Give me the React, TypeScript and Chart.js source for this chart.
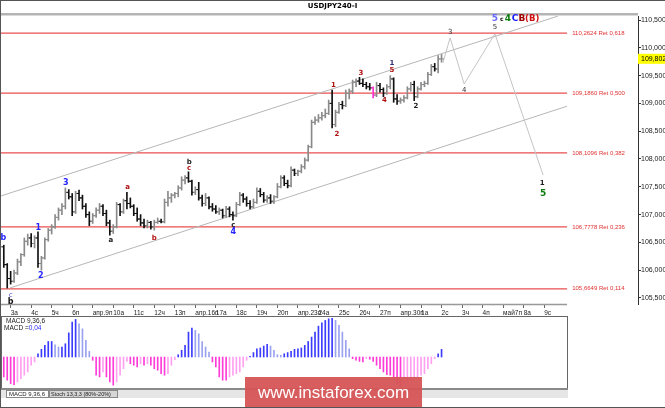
import React, { useRef, useEffect } from 'react';
import { Chart, registerables } from 'chart.js';

Chart.register(...registerables);

// USDJPY H4 bars, index 0 = first bar on screen (Apr 2), last = May 1 close
const opens = [
  106.42, 106.10, 105.85, 105.80, 105.95, 106.15, 106.28, 106.52, 106.58, 106.48,
  106.58, 106.12, 106.22, 106.55, 106.72, 106.78, 106.95, 107.08, 107.15, 107.40,
  107.32, 107.05, 107.38, 107.30, 107.15, 107.00, 106.88, 106.98, 107.08, 107.15,
  107.02, 106.85, 106.70, 106.78, 107.18, 107.05, 107.25, 107.20, 107.15, 107.02,
  106.92, 106.85, 106.80, 106.86, 106.78, 106.86, 106.88, 106.87, 107.22, 107.30,
  107.35, 107.38, 107.48, 107.62, 107.66, 107.60, 107.40, 107.45, 107.30, 107.20,
  107.30, 107.14, 107.10, 107.05, 107.08, 106.98, 107.10, 107.00, 106.98, 107.18,
  107.35, 107.28, 107.20, 107.14, 107.22, 107.42, 107.36, 107.26, 107.30, 107.24,
  107.32, 107.50, 107.66, 107.56, 107.52, 107.80, 107.74, 107.78, 107.86, 107.98,
  108.22, 108.66, 108.70, 108.74, 108.78, 108.82, 109.00, 108.62, 108.84, 108.98,
  108.96, 109.18, 109.22, 109.38, 109.40, 109.36, 109.34, 109.30, 109.28, 109.15,
  109.32, 109.25, 109.18, 109.30, 109.44, 109.08, 109.04, 109.06, 109.10, 109.26,
  109.34, 109.12, 109.26, 109.34, 109.36, 109.52, 109.66, 109.62, 109.80,
];
const highs = [
  106.45, 106.12, 105.98, 106.00, 106.20, 106.30, 106.58, 106.65, 106.66, 106.62,
  106.69, 106.25, 106.58, 106.75, 106.82, 107.00, 107.12, 107.20, 107.48, 107.45,
  107.38, 107.42, 107.44, 107.35, 107.20, 107.05, 107.02, 107.12, 107.20, 107.18,
  107.08, 106.90, 106.82, 107.22, 107.20, 107.28, 107.40, 107.30, 107.18, 107.12,
  107.00, 106.92, 106.90, 106.88, 106.90, 106.94, 106.92, 107.28, 107.42, 107.38,
  107.40, 107.52, 107.68, 107.70, 107.77, 107.62, 107.50, 107.58, 107.35, 107.38,
  107.32, 107.20, 107.16, 107.12, 107.10, 107.15, 107.14, 107.05, 107.22, 107.40,
  107.38, 107.32, 107.25, 107.28, 107.48, 107.47, 107.40, 107.34, 107.36, 107.34,
  107.56, 107.70, 107.70, 107.62, 107.86, 107.82, 107.80, 107.90, 108.02, 108.25,
  108.70, 108.76, 108.80, 108.84, 108.90, 109.06, 109.24, 108.88, 109.02, 109.04,
  109.24, 109.26, 109.42, 109.44, 109.47, 109.44, 109.38, 109.36, 109.30, 109.38,
  109.36, 109.28, 109.34, 109.50, 109.46, 109.16, 109.10, 109.14, 109.30, 109.38,
  109.40, 109.30, 109.38, 109.40, 109.56, 109.70, 109.72, 109.86, 109.88,
];
const lows = [
  106.05, 105.68, 105.75, 105.78, 105.92, 106.08, 106.25, 106.45, 106.42, 106.40,
  106.05, 106.00, 106.20, 106.52, 106.65, 106.75, 106.90, 107.00, 107.10, 107.28,
  106.98, 107.02, 107.25, 107.10, 106.95, 106.80, 106.84, 106.95, 107.02, 106.98,
  106.80, 106.63, 106.66, 106.76, 106.98, 107.02, 107.10, 107.12, 106.98, 106.88,
  106.80, 106.76, 106.76, 106.74, 106.72, 106.84, 106.85, 106.85, 107.15, 107.22,
  107.30, 107.32, 107.44, 107.55, 107.58, 107.35, 107.36, 107.26, 107.15, 107.16,
  107.10, 107.06, 107.02, 107.00, 106.94, 106.95, 106.96, 106.90, 106.96, 107.16,
  107.22, 107.15, 107.10, 107.12, 107.20, 107.32, 107.22, 107.22, 107.20, 107.20,
  107.30, 107.48, 107.52, 107.48, 107.50, 107.70, 107.70, 107.75, 107.82, 107.96,
  108.20, 108.62, 108.66, 108.70, 108.74, 108.80, 108.56, 108.58, 108.82, 108.90,
  108.94, 109.08, 109.18, 109.30, 109.34, 109.30, 109.26, 109.24, 109.10, 109.12,
  109.20, 109.12, 109.16, 109.26, 109.02, 108.98, 109.00, 109.02, 109.08, 109.22,
  109.05, 109.10, 109.24, 109.30, 109.34, 109.50, 109.58, 109.55, 109.74,
];
const closes = [
  106.10, 105.85, 105.80, 105.95, 106.15, 106.28, 106.52, 106.58, 106.48, 106.58,
  106.12, 106.22, 106.55, 106.72, 106.78, 106.95, 107.08, 107.15, 107.40, 107.32,
  107.05, 107.38, 107.30, 107.15, 107.00, 106.88, 106.98, 107.08, 107.15, 107.02,
  106.85, 106.70, 106.78, 107.18, 107.05, 107.25, 107.20, 107.15, 107.02, 106.92,
  106.85, 106.80, 106.86, 106.78, 106.86, 106.88, 106.87, 107.22, 107.30, 107.35,
  107.38, 107.48, 107.62, 107.66, 107.60, 107.40, 107.45, 107.30, 107.20, 107.30,
  107.14, 107.10, 107.05, 107.08, 106.98, 107.10, 107.00, 106.98, 107.18, 107.35,
  107.28, 107.20, 107.14, 107.22, 107.42, 107.36, 107.26, 107.30, 107.24, 107.32,
  107.50, 107.66, 107.56, 107.52, 107.80, 107.74, 107.78, 107.86, 107.98, 108.22,
  108.66, 108.70, 108.74, 108.78, 108.82, 109.00, 108.62, 108.84, 108.98, 108.96,
  109.18, 109.22, 109.38, 109.40, 109.36, 109.34, 109.30, 109.28, 109.15, 109.32,
  109.25, 109.18, 109.30, 109.44, 109.08, 109.04, 109.06, 109.10, 109.26, 109.34,
  109.12, 109.26, 109.34, 109.36, 109.52, 109.66, 109.62, 109.80, 109.80,
];
// bar shown in magenta on the terminal
const markedBar = 108;

// MACD 9,36,6 histogram, one value per bar
const macd = [
  -0.104, -0.121, -0.139, -0.144, -0.130, -0.113, -0.095, -0.078, -0.043, -0.026,
  0.017, 0.040, 0.061, 0.081, 0.081, 0.064, 0.052, 0.052, 0.069, 0.126,
  0.182, 0.196, 0.173, 0.147, 0.087, 0.029,
  -0.017, -0.095, -0.104, -0.078, -0.104, -0.130, -0.147, -0.130, -0.095, -0.061,
  -0.023, -0.035, -0.043, -0.052, -0.035, -0.043, -0.035, -0.043, -0.061, -0.069,
  -0.087, -0.095, -0.087, -0.043, -0.014,
  0.012, 0.035, 0.061, 0.130, 0.151, 0.139, 0.121, 0.081, 0.052, 0.026,
  -0.026, -0.052, -0.104, -0.121, -0.121, -0.104, -0.095, -0.087, -0.078, -0.052,
  -0.017, 0.004,
  0.023, 0.043, 0.047, 0.057, 0.066, 0.057, 0.035, 0.012, 0.009, 0.017,
  0.023, 0.029, 0.040, 0.043, 0.047, 0.061, 0.081, 0.104, 0.130, 0.161,
  0.178, 0.191, 0.199, 0.203, 0.191, 0.165, 0.130, 0.087, 0.043,
  -0.009, -0.017, -0.023, -0.026, -0.009, -0.012, -0.023, -0.043, -0.061, -0.078,
  -0.092, -0.095, -0.113, -0.139, -0.151, -0.139, -0.130, -0.121, -0.113, -0.104,
  -0.095, -0.087, -0.061, -0.035, -0.009,
  0.017, 0.040,
];

// one label per trading day, first one sits on bar 2, then every 6 bars
const dayLabels = [
  '3а', '4с', '5ч', '6п', 'апр.9п', '10а', '11с', '12ч', '13п', 'апр.16п',
  '17а', '18с', '19ч', '20п', 'апр.23п', '24а', '25с', '26ч', '27п', 'апр.30п',
  '1а', '2с', '3ч', '4п', 'май7п', '8а', '9с',
];
const priceTicks = [105.5, 106, 106.5, 107, 107.5, 108, 108.5, 109, 109.5, 110, 110.5];
const fibLevels = [110.2624, 109.186, 108.1096, 106.7778, 105.6649];
const fibRatios = ['0,618', '0,500', '0,382', '0,236', '0,114'];
const lastPrice = 109.802;

// channel and forecast path, in (bar index, price)
const upperChannel = [{ x: -1.11, y: 107.33 }, { x: 162, y: 110.57 }];
const lowerChannel = [{ x: 1.8, y: 105.68 }, { x: 164.7, y: 108.95 }];
const forecast = [
  { x: 128.4, y: 109.73 }, { x: 130.5, y: 110.18 }, { x: 134.6, y: 109.35 },
  { x: 143.6, y: 110.25 }, { x: 157.7, y: 107.71 },
];

// wave marks: text, bar index, price, style
const waveLabels = [
  ['b', -0.1, 106.58, 'blue'], ['c', 2.0, 105.55, 'blueC'], ['b', 2.0, 105.43, 'blackBig'],
  ['1', 10.1, 106.76, 'blue'], ['2', 10.8, 105.9, 'blue'], ['3', 18.1, 107.57, 'blue'],
  ['a', 31.3, 106.54, 'black'], ['a', 36.2, 107.5, 'red'], ['b', 44.0, 106.58, 'red'],
  ['b', 54.2, 107.95, 'black'], ['c', 54.2, 107.84, 'red'],
  ['c', 67.1, 106.81, 'black'], ['4', 67.1, 106.69, 'blue'],
  ['1', 96.4, 109.33, 'red'], ['2', 97.4, 108.45, 'red'], ['3', 104.4, 109.55, 'red'],
  ['4', 111.3, 109.06, 'red'], ['1', 113.5, 109.73, 'navy'], ['5', 113.5, 109.59, 'red'],
  ['2', 120.5, 108.95, 'black'],
  ['3', 130.5, 110.28, 'gray'], ['4', 134.6, 109.24, 'gray'], ['5', 143.6, 110.37, 'gray'],
  ['5', 143.6, 110.518, 'violet'], ['c', 145.6, 110.518, 'tiny'], ['4', 147.4, 110.518, 'green'],
  ['C', 149.5, 110.518, 'blueBig'], ['B', 151.5, 110.518, 'maroon'], ['(B)', 154.5, 110.518, 'redBig'],
  ['1', 157.4, 107.57, 'black'], ['5', 157.7, 107.37, 'greenMid'],
];

const labelStyles = {
  blue: ['#2424ff', 'bold 8px "DejaVu Sans"'],
  blueC: ['#4848d0', '7px "DejaVu Sans"'],
  black: ['#202020', 'bold 7px "DejaVu Sans"'],
  blackBig: ['#111111', 'bold 8px "DejaVu Sans"'],
  red: ['#b01010', 'bold 7px "DejaVu Sans"'],
  navy: ['#303078', 'bold 7px "DejaVu Sans"'],
  gray: ['#333333', '7px "DejaVu Sans"'],
  violet: ['#6a6aff', 'bold 9px "DejaVu Sans"'],
  tiny: ['#111111', 'bold 6px "DejaVu Sans"'],
  green: ['#0a7a0a', 'bold 9px "DejaVu Sans"'],
  greenMid: ['#0a7a0a', 'bold 9px "DejaVu Sans"'],
  blueBig: ['#1a1aff', 'bold 9px "DejaVu Sans"'],
  maroon: ['#a00000', 'bold 9px "DejaVu Sans"'],
  redBig: ['#d01010', 'bold 8.5px "DejaVu Sans"'],
};

const X_MIN = -1.11;
const X_MAX = 185.44;
const AXIS_W = 27;

const barColor = (i) => {
  if (i === markedBar) return '#ff30d0';
  return closes[i] >= opens[i] ? '#8a8a8a' : '#111111';
};

const macdColor = (i) => {
  const v = macd[i];
  const prev = i > 0 ? macd[i - 1] : 0;
  if (v >= 0) return v >= prev ? '#3c3cff' : '#9aa2f0';
  return v <= prev ? '#ff3cd8' : '#ffa0f0';
};

const fmt = (v, d) => v.toFixed(d).replace('.', ',');

const mainDecor = {
  id: 'mainDecor',
  afterDraw(chart) {
    const { ctx, chartArea, scales } = chart;
    const xs = scales.x;
    const ys = scales.y;
    ctx.save();
    // title band
    ctx.fillStyle = '#b4b4b4';
    ctx.fillRect(0, 13, chartArea.right, 2.5);
    ctx.fillStyle = '#000';
    ctx.font = 'bold 7px "DejaVu Sans"';
    ctx.textAlign = 'center';
    ctx.textBaseline = 'middle';
    ctx.fillText('USDJPY240-I', 332.5, 6.5);
    // time axis baseline
    ctx.strokeStyle = '#999';
    ctx.lineWidth = 1.5;
    ctx.beginPath();
    ctx.moveTo(0, chartArea.bottom + 0.5);
    ctx.lineTo(xs.getPixelForValue(164.7), chartArea.bottom + 0.5);
    ctx.stroke();
    // fibo captions
    ctx.font = '6px "Liberation Sans"';
    ctx.textAlign = 'left';
    ctx.fillStyle = '#e03030';
    fibLevels.forEach((lv, k) => {
      ctx.fillText(`${fmt(lv, 4)} Ret ${fibRatios[k]}`, xs.getPixelForValue(166.2), ys.getPixelForValue(lv));
    });
    // wave marks
    ctx.textAlign = 'center';
    waveLabels.forEach(([t, i, p, k]) => {
      const [c, f] = labelStyles[k];
      ctx.fillStyle = c;
      ctx.font = f;
      ctx.fillText(t, xs.getPixelForValue(i), ys.getPixelForValue(p));
    });
    // last price box
    const py = ys.getPixelForValue(lastPrice);
    ctx.fillStyle = '#ffff00';
    ctx.fillRect(chartArea.right, py - 5, AXIS_W, 10);
    ctx.fillStyle = '#000';
    ctx.textAlign = 'left';
    ctx.font = '7px "Liberation Sans"';
    ctx.fillText(fmt(lastPrice, 3), chartArea.right + 3, py + 0.5);
    ctx.restore();
  },
};

const macdDecor = {
  id: 'macdDecor',
  afterDraw(chart) {
    const { ctx } = chart;
    ctx.save();
    ctx.strokeStyle = '#666';
    ctx.lineWidth = 1;
    ctx.strokeRect(1.5, 0.5, 566, 72);
    ctx.fillStyle = '#8a8a8a';
    ctx.fillRect(1, 72, 567, 2);
    ctx.fillStyle = '#e6e6e6';
    ctx.fillRect(1, 74, 567, 8);
    ctx.fillStyle = '#fff';
    ctx.fillRect(6, 74, 42, 8);
    ctx.strokeStyle = '#888';
    ctx.strokeRect(6.5, 74.5, 42, 7);
    ctx.fillStyle = '#d6d6d6';
    ctx.fillRect(49, 75, 68, 7);
    ctx.strokeRect(49.5, 74.5, 68, 7);
    ctx.textBaseline = 'middle';
    ctx.textAlign = 'left';
    ctx.fillStyle = '#222';
    ctx.font = '6px "Liberation Sans"';
    ctx.fillText('MACD 9,36,6', 9, 78.5);
    ctx.font = '5.5px "Liberation Sans"';
    ctx.fillText('Stoch 13,3,3 (80%-20%)', 51, 78.5);
    ctx.font = '6.5px "Liberation Sans"';
    ctx.fillText('MACD 9,36,6', 6, 5.5);
    ctx.fillText('MACD =', 4, 12.5);
    const w = ctx.measureText('MACD =').width;
    ctx.fillStyle = '#2a2aff';
    ctx.fillText(fmt(macd[macd.length - 1], 2), 4 + w, 12.5);
    ctx.restore();
  },
};

const PriceChart = () => {
  const ref = useRef(null);
  useEffect(() => {
    const chart = new Chart(ref.current, {
      type: 'bar',
      data: {
        datasets: [
          {
            type: 'bar',
            data: highs.map((h, i) => ({ x: i, y: [lows[i], h] })),
            backgroundColor: (c) => barColor(c.dataIndex),
            barThickness: 1,
            borderWidth: 0,
          },
          {
            type: 'scatter',
            data: opens.map((o, i) => ({ x: i - 0.36, y: o })),
            pointStyle: 'line',
            pointRadius: 1.25,
            pointHoverRadius: 1.25,
            pointBorderWidth: 1,
            pointBorderColor: (c) => barColor(c.dataIndex),
          },
          {
            type: 'scatter',
            data: closes.map((v, i) => ({ x: i + 0.36, y: v })),
            pointStyle: 'line',
            pointRadius: 1.25,
            pointHoverRadius: 1.25,
            pointBorderWidth: 1,
            pointBorderColor: (c) => barColor(c.dataIndex),
          },
          {
            type: 'line',
            data: forecast,
            borderColor: '#c4c4c4',
            borderWidth: 1,
            pointRadius: 0,
            tension: 0,
          },
          {
            type: 'line',
            data: upperChannel,
            borderColor: '#b6b6b6',
            borderWidth: 1,
            pointRadius: 0,
          },
          {
            type: 'line',
            data: lowerChannel,
            borderColor: '#b6b6b6',
            borderWidth: 1,
            pointRadius: 0,
          },
          ...fibLevels.map((lv) => ({
            type: 'line',
            data: [{ x: X_MIN, y: lv }, { x: 164.7, y: lv }],
            borderColor: 'rgba(228,60,60,0.9)',
            borderWidth: 1.2,
            pointRadius: 0,
          })),
        ],
      },
      options: {
        responsive: false,
        animation: false,
        events: [],
        layout: { autoPadding: false, padding: { top: 16, left: 0, right: 0, bottom: 0 } },
        plugins: { legend: { display: false }, tooltip: { enabled: false } },
        scales: {
          x: {
            type: 'linear',
            offset: false,
            min: X_MIN,
            max: X_MAX,
            afterBuildTicks: (s) => {
              s.ticks = dayLabels.map((_, k) => ({ value: 2 + 6 * k }));
            },
            afterFit: (s) => {
              s.height = 12;
              s.paddingLeft = 0;
              s.paddingRight = 0;
            },
            ticks: {
              autoSkip: false,
              maxRotation: 0,
              minRotation: 0,
              align: 'start',
              padding: 1,
              color: '#222',
              font: { family: 'Liberation Sans', size: 6.5 },
              callback: (v, idx) => dayLabels[idx],
            },
            grid: { display: true, offset: false, drawOnChartArea: false, tickLength: 4, color: '#666' },
            border: { display: false },
          },
          y: {
            type: 'linear',
            position: 'right',
            min: 105.392,
            max: 110.572,
            afterBuildTicks: (s) => {
              s.ticks = priceTicks.map((v) => ({ value: v }));
            },
            afterFit: (s) => {
              s.width = AXIS_W;
              s.paddingTop = 0;
              s.paddingBottom = 0;
            },
            ticks: {
              padding: 0,
              color: '#222',
              font: { family: 'Liberation Sans', size: 7 },
              callback: (v) => fmt(Number(v), 3),
            },
            grid: { drawOnChartArea: false, tickLength: 3, color: '#333' },
            border: { display: true, color: '#333' },
          },
        },
      },
      plugins: [mainDecor],
    });
    return () => chart.destroy();
  }, []);
  return <canvas ref={ref} width={665} height={316} style={{ position: 'absolute', left: 0, top: 0 }} />;
};

const MacdChart = () => {
  const ref = useRef(null);
  useEffect(() => {
    const chart = new Chart(ref.current, {
      type: 'bar',
      data: {
        datasets: [
          {
            data: macd.map((v, i) => ({ x: i, y: v })),
            backgroundColor: (c) => macdColor(c.dataIndex),
            barThickness: 1,
            borderWidth: 0,
          },
        ],
      },
      options: {
        responsive: false,
        animation: false,
        events: [],
        layout: { autoPadding: false, padding: { top: 2, bottom: 19, left: 0, right: AXIS_W } },
        plugins: { legend: { display: false }, tooltip: { enabled: false } },
        scales: {
          x: { type: 'linear', offset: false, min: X_MIN, max: X_MAX, display: false },
          y: { min: -0.167, max: 0.2035, display: false },
        },
      },
      plugins: [macdDecor],
    });
    return () => chart.destroy();
  }, []);
  return <canvas ref={ref} width={665} height={92} style={{ position: 'absolute', left: 0, top: 316 }} />;
};

export default function App() {
  return (
    <div style={{ position: 'fixed', left: 0, top: 0, width: 665, height: 408, background: '#fff', overflow: 'hidden' }}>
      <PriceChart />
      <MacdChart />
      <div
        style={{
          position: 'absolute',
          left: 245,
          top: 377,
          width: 177,
          height: 31,
          background: 'rgba(214,84,86,0.95)',
          color: '#fff',
          font: '17px "Liberation Sans", Arial, sans-serif',
          lineHeight: '31px',
          textAlign: 'center',
        }}
      >
        www.instaforex.com
      </div>
      <div
        style={{
          position: 'absolute',
          inset: 0,
          borderLeft: '1px solid #555',
          borderTop: '1px solid #555',
          borderBottom: '1px solid #555',
          pointerEvents: 'none',
        }}
      />
    </div>
  );
}
